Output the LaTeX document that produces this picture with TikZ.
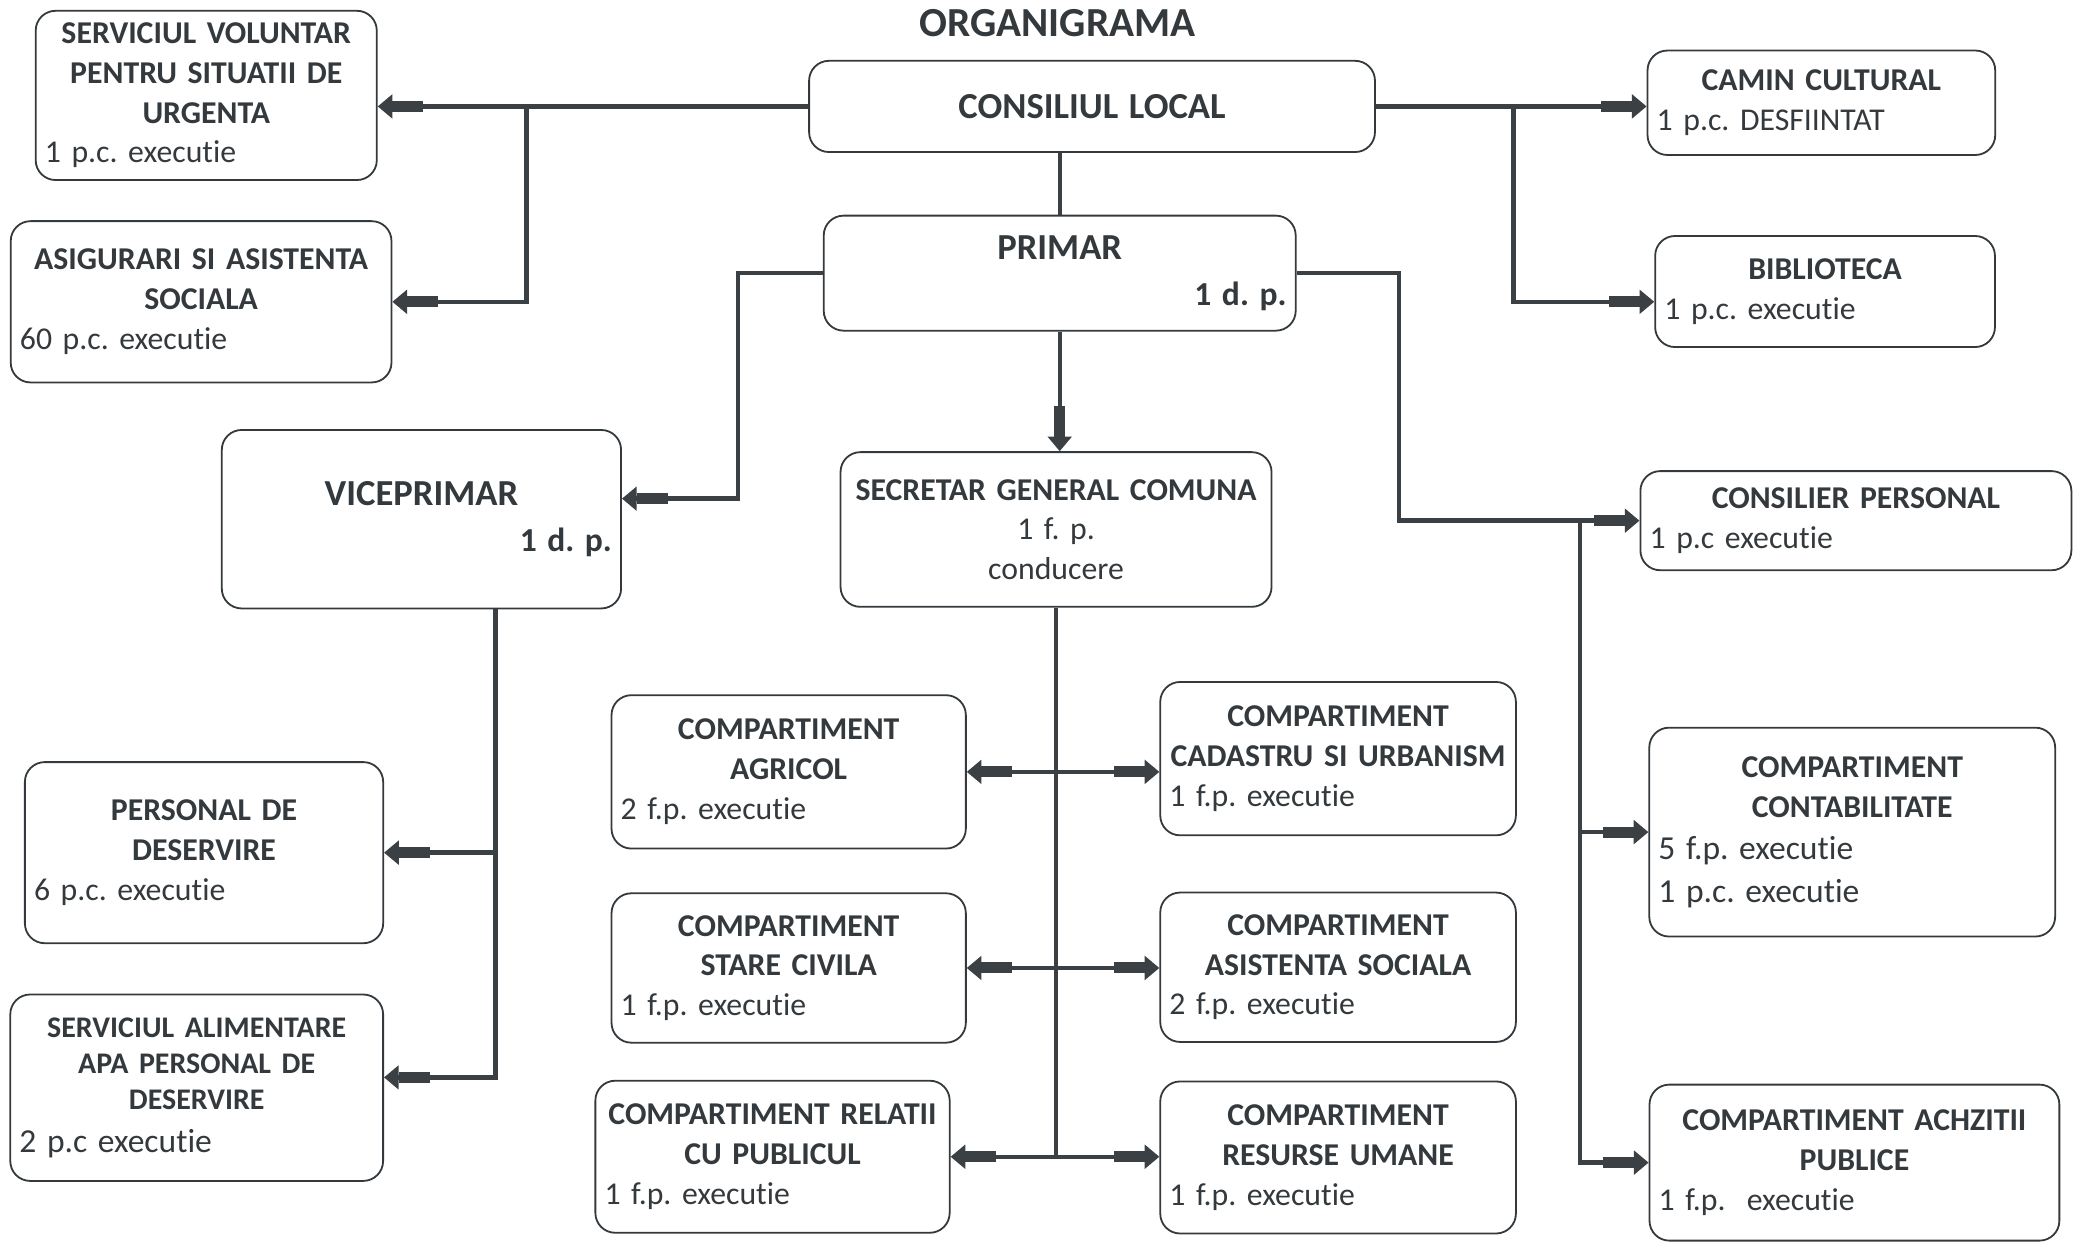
\documentclass[tikz,border=0pt]{standalone}
\usepackage{fontspec}
\setmainfont[Ligatures=NoCommon]{Carlito}
\usepackage{xcolor}
\usepackage{tikz}
\usetikzlibrary{positioning}
\usetikzlibrary{arrows.meta}
\definecolor{ink}{HTML}{33393C}
\definecolor{wirecol}{HTML}{3A4043}
\frenchspacing

\begin{document}
\begin{tikzpicture}[node distance=1cm, on grid, every node/.style={text=ink, font=\fontsize{12.3}{15.4}\selectfont},
      office/.style 2 args={draw=ink, line width=0.7pt, rounded corners=0.27cm, inner sep=0.125cm, text width=#1, minimum height=#2},
      wire/.style={draw=wirecol, line width=1.7pt},
      feed/.style={wire, -{Rectangle[length=0.42cm,width=0.15cm,sep=0pt]Triangle[length=0.2cm,width=0.32cm,sep=0pt]}},
      both/.style={wire, {Triangle[length=0.2cm,width=0.32cm,sep=0pt]Rectangle[length=0.42cm,width=0.15cm,sep=0pt]}-{Rectangle[length=0.42cm,width=0.15cm,sep=0pt]Triangle[length=0.2cm,width=0.32cm,sep=0pt]}}]

      \useasboundingbox (0,0) rectangle (28.224,-16.902);

      \node[office={7.454cm}{1.242cm}] (consiliu) at (14.868,-1.449) {\centering\bfseries\fontsize{14.2}{17}\selectfont CONSILIUL LOCAL\par};
      \node[font=\fontsize{16}{19}\selectfont\bfseries] (title) [above=1.13cm of consiliu, xshift=-0.47cm] {ORGANIGRAMA};
      \node[office={6.176cm}{1.566cm}] (primar) [below=2.27cm of consiliu, xshift=-0.44cm] {{\centering\bfseries\fontsize{14.2}{17}\selectfont PRIMAR\par}\vspace{2pt}{\raggedleft\bfseries\fontsize{13}{16}\selectfont 1 d. p.\par}};

      \node[office={4.394cm}{2.304cm}] (svsu) [left=12.06cm of consiliu, yshift=0.15cm] {{\centering\bfseries SERVICIUL VOLUNTAR\\ PENTRU SITUATII DE\\ URGENTA\par}1 p.c. executie};
      \node[office={4.934cm}{2.196cm}] (asig) [below=2.81cm of svsu, xshift=-0.07cm] {{\centering\bfseries ASIGURARI SI ASISTENTA\\ SOCIALA\par}60 p.c. executie};

      \node[office={4.484cm}{1.422cm}] (camin) [right=9.93cm of consiliu, yshift=0.05cm] {{\centering\bfseries CAMIN CULTURAL\par}1 p.c. DESFIINTAT};
      \node[office={4.376cm}{1.512cm}] (biblio) [below=2.57cm of camin, xshift=0.05cm] {{\centering\bfseries BIBLIOTECA\par}1 p.c. executie};
      \node[office={5.618cm}{1.35cm}] (consilier) [below=3.12cm of biblio, xshift=0.42cm] {{\centering\bfseries CONSILIER PERSONAL\par}1 p.c executie};
      \node[office={5.276cm}{2.844cm}] (contab) [below=4.24cm of consilier, xshift=-0.05cm] {{\centering\bfseries COMPARTIMENT\\ CONTABILITATE\par}{\fontsize{13}{16.5}\selectfont 5 f.p. executie\\ 1 p.c. executie\par}};
      \node[office={5.33cm}{2.124cm}] (achiz) [below=4.5cm of contab, xshift=0.03cm] {{\centering\bfseries COMPARTIMENT ACHZITII\\ PUBLICE\par}1 f.p.\ \ executie};

      \node[office={5.186cm}{2.43cm}] (vice) [below left=3.35cm and 8.69cm of primar] {{\centering\bfseries\fontsize{14.2}{17}\selectfont VICEPRIMAR\par}\vspace{2pt}{\raggedleft\bfseries\fontsize{13}{16}\selectfont 1 d. p.\par}};
      \node[office={5.618cm}{2.106cm}] (secretar) [below=3.49cm of primar, xshift=-0.05cm] {\centering{\bfseries SECRETAR GENERAL COMUNA}\\ 1 f. p.\\ conducere\par};

      \node[office={4.628cm}{2.466cm}] (persdes) [below left=4.54cm and 2.96cm of vice] {{\centering\bfseries PERSONAL DE\\ DESERVIRE\par}6 p.c. executie};
      \node[office={4.826cm}{2.538cm}] (alim) [below=3.2cm of persdes, xshift=-0.1cm] {{\centering\bfseries\fontsize{11.6}{14}\selectfont SERVICIUL ALIMENTARE\\ APA PERSONAL DE\\ DESERVIRE\par}{\fontsize{13}{16.5}\selectfont 2 p.c executie\par}};

      \node[office={4.574cm}{2.088cm}] (agricol) [below left=3.3cm and 3.64cm of secretar] {{\centering\bfseries COMPARTIMENT\\ AGRICOL\par}2 f.p. executie};
      \node[office={4.592cm}{2.088cm}] (cadastru) [below right=3.12cm and 3.84cm of secretar] {{\centering\bfseries COMPARTIMENT\\ CADASTRU SI URBANISM\par}1 f.p. executie};
      \node[office={4.574cm}{2.034cm}] (stare) [below=2.67cm of agricol] {{\centering\bfseries COMPARTIMENT\\ STARE CIVILA\par}1 f.p. executie};
      \node[office={4.592cm}{2.034cm}] (asist) [below=2.84cm of cadastru] {{\centering\bfseries COMPARTIMENT\\ ASISTENTA SOCIALA\par}2 f.p. executie};
      \node[office={4.574cm}{2.07cm}] (relatii) [below=2.57cm of stare, xshift=-0.22cm] {{\centering\bfseries COMPARTIMENT RELATII\\ CU PUBLICUL\par}1 f.p. executie};
      \node[office={4.592cm}{2.07cm}] (resurse) [below=2.59cm of asist] {{\centering\bfseries COMPARTIMENT\\ RESURSE UMANE\par}1 f.p. executie};

      \coordinate[left=7.7cm of consiliu] (cl);
      \coordinate[right=5.74cm of consiliu] (cr);
      \coordinate[left=4.38cm of primar] (pl);
      \coordinate[right=4.62cm of primar] (pr);
      \coordinate[left=3.76cm of consilier] (cs);
      \coordinate[right=1.01cm of vice] (vs);

      % consiliul local
      \draw[feed] (consiliu.west) -- (consiliu.west -| svsu.east);
      \draw[feed] (cl) |- (asig.east);
      \draw[feed] (consiliu.east) -- (consiliu.east -| camin.west);
      \draw[feed] (cr) |- ([yshift=-0.14cm]biblio.west);
      \draw[wire] (consiliu.south -| primar.north) -- (primar.north);

      % primar
      \draw[feed] (primar.west) -- (pl) |- ([yshift=0.28cm]vice.east);
      \draw[feed] (primar.south) -- (primar.south |- secretar.north);
      \draw[feed] (primar.east) -- (pr) |- (consilier.west);
      \draw[feed] (cs) |- (achiz.west);
      \draw[feed] (cs |- contab.west) -- (contab.west);

      % viceprimar
      \draw[feed] (vice.south -| vs) |- ([yshift=0.14cm]alim.east);
      \draw[feed] (vs |- persdes.east) -- (persdes.east);

      % secretar
      \draw[wire] (secretar.south) -- (secretar.south |- relatii.east);
      \draw[both] (agricol.east) -- (agricol.east -| cadastru.west);
      \draw[both] (stare.east) -- (stare.east -| asist.west);
      \draw[both] (relatii.east) -- (relatii.east -| resurse.west);

    \end{tikzpicture}
\end{document}
